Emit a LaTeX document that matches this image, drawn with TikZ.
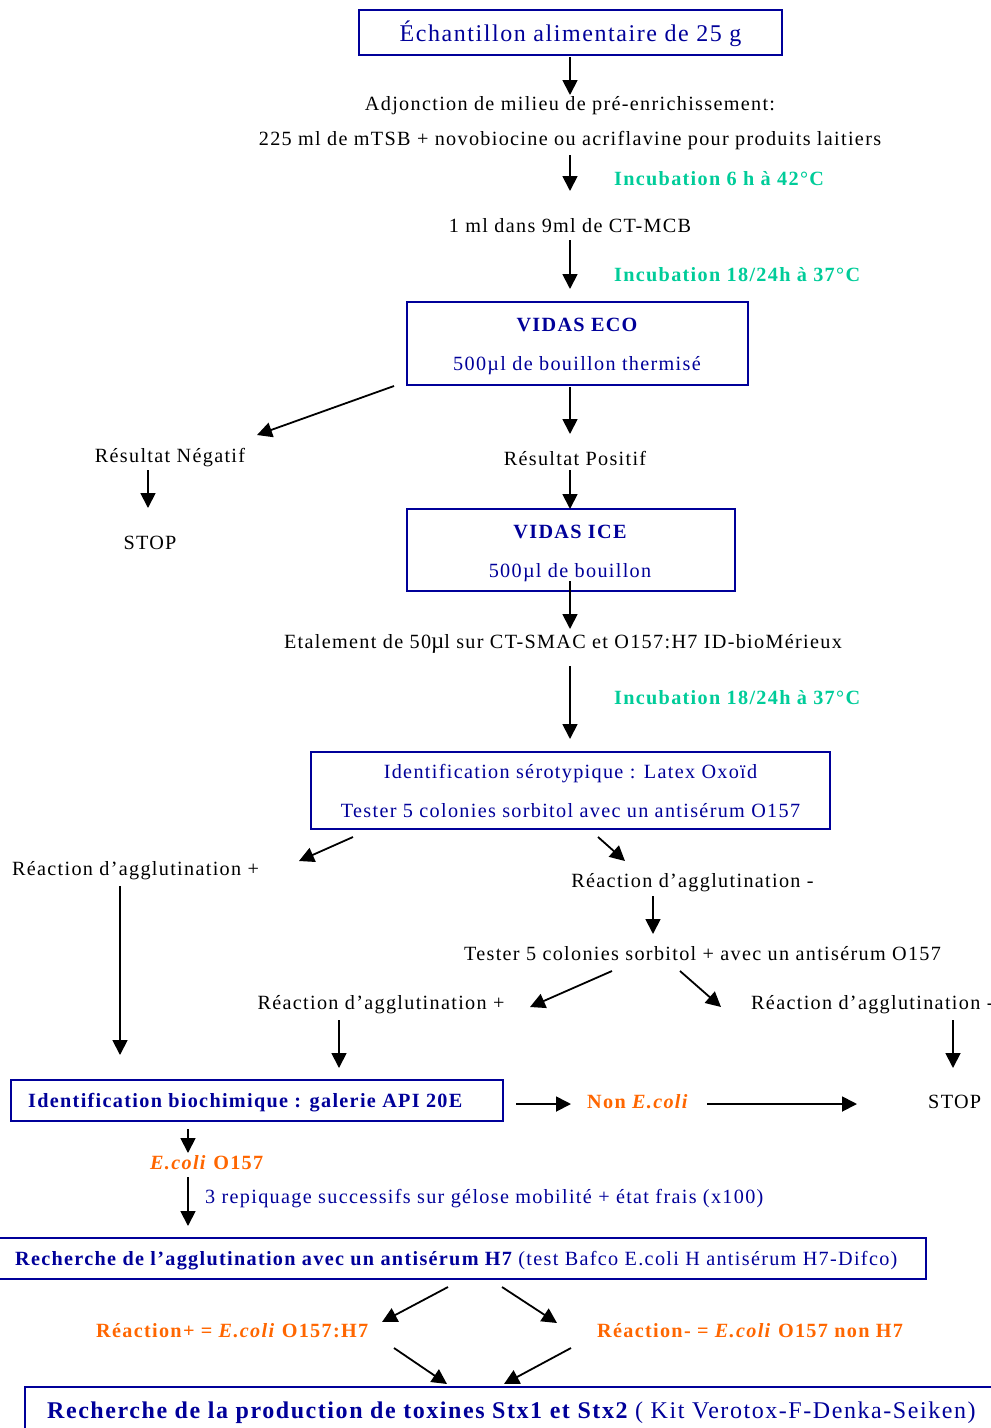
\documentclass[tikz,border=0pt]{standalone}
\usepackage{fontspec}
\setmainfont{Liberation Serif}[LetterSpace=6.5]
\usetikzlibrary{arrows.meta}
\definecolor{navy}{RGB}{0,0,153}
\definecolor{incgreen}{RGB}{0,204,153}
\definecolor{orng}{RGB}{255,102,0}
\newcommand{\fn}{\fontsize{20.2}{24}\selectfont}
\begin{document}
\begin{tikzpicture}[x=1pt,y=-1pt,
  box/.style={draw=navy,line width=2pt,inner sep=0pt},
  arr/.style={-{Triangle[length=15pt,width=15pt]},line width=1.8pt},
  t/.style={inner sep=0pt,font=\fn,yshift=-2pt},
  tb/.style={t,text=navy},
  inc/.style={inner sep=0pt,yshift=-2pt,anchor=west,text=incgreen,font=\fn\bfseries},
  og/.style={inner sep=0pt,yshift=-2pt,anchor=west,text=orng,font=\fn\bfseries}]
\useasboundingbox (0,0) rectangle (991,1428);

% boxes
\node[box,minimum width=423,minimum height=45] (b1) at (570.5,32.5) {};
\node[tb,font=\fontsize{24}{28}\selectfont] (b1t) at (570.5,32) {Échantillon alimentaire de 25 g};
\node[box,minimum width=341,minimum height=83] (eco) at (577.5,343.5) {};
\node[tb,font=\fn\bfseries] (ecot) at (577,323) {VIDAS ECO};
\node[tb] (ecob) at (577,364) {500µl de bouillon thermisé};
\node[box,minimum width=328,minimum height=82] (ice) at (571,550) {};
\node[tb,font=\fn\bfseries] (icet) at (570,530) {VIDAS ICE};
\node[tb] (iceb) at (570,571) {500µl de bouillon};
\node[box,minimum width=519,minimum height=77] (sero) at (570.5,790.5) {};
\node[tb] (serot) at (570.5,772) {Identification sérotypique : Latex Oxoïd};
\node[tb] (serob) at (570.5,809) {Tester 5 colonies sorbitol avec un antisérum O157};
\node[box,minimum width=492,minimum height=41] (api) at (257,1100.5) {};
\node[tb,anchor=west,font=\fn\bfseries] (apit) at (28,1101) {Identification biochimique : galerie API 20E};
\node[box,minimum width=936,minimum height=41] (h7) at (458,1258.5) {};
\node[tb,anchor=west] (h7t) at (15,1259) {\bfseries Recherche de l’agglutination avec un antisérum H7\mdseries{} (test Bafco E.coli H antisérum H7-Difco)};
\node[box,minimum width=1000,minimum height=60] (tox) at (525,1417) {};
\node[tb,anchor=west,font=\fontsize{24}{28}\selectfont] (toxt) at (47,1411) {\bfseries Recherche de la production de toxines Stx1 et Stx2\mdseries{} ( Kit Verotox-F-Denka-Seiken)};

% plain texts
\node[t] (adj) at (570,104) {Adjonction de milieu de pré-enrichissement:};
\node[t] (mtsb) at (570,139) {225 ml de mTSB + novobiocine ou acriflavine pour produits laitiers};
\node[inc] (inc1) at (614,177) {Incubation 6 h à 42°C};
\node[t] (mcb) at (570,224) {1 ml dans 9ml de CT-MCB};
\node[inc] (inc2) at (614,273) {Incubation 18/24h à 37°C};
\node[t] (neg) at (170,456) {Résultat Négatif};
\node[t] (pos) at (575,456) {Résultat Positif};
\node[t] (stop1) at (150,541) {STOP};
\node[t] (etal) at (563,642) {Etalement de 50{\fontsize{23}{23}\selectfont µ}l sur CT-SMAC et O157:H7 ID-bioMérieux};
\node[inc] (inc3) at (614,696) {Incubation 18/24h à 37°C};
\node[t] (rp1) at (135.5,869) {Réaction d’agglutination +};
\node[t] (rm1) at (692.5,881) {Réaction d’agglutination -};
\node[t] (test2) at (702.5,952) {Tester 5 colonies sorbitol + avec un antisérum O157};
\node[t] (rp2) at (381,1003) {Réaction d’agglutination +};
\node[t,anchor=west] (rm2) at (751,1003) {Réaction d’agglutination -};
\node[og] (nonec) at (587,1100) {Non \textit{E.coli}};
\node[t,anchor=west] (stop2) at (928,1100) {STOP};
\node[og] (ecoli) at (150,1161) {\textit{E.coli} O157};
\node[tb,anchor=west] (rep) at (205,1197) {3 repiquage successifs sur gélose mobilité + état frais (x100)};
\node[og] (rplus) at (96,1329) {Réaction+ = \textit{E.coli} O157:H7};
\node[og] (rminus) at (597,1329) {Réaction- = \textit{E.coli} O157 non H7};

% connector end points
\coordinate (a1s) at (570,57);   \coordinate (a1e) at (570,95);
\coordinate (a2s) at (570,155);  \coordinate (a2e) at (570,191);
\coordinate (a3s) at (570,240);  \coordinate (a3e) at (570,289);
\coordinate (a4s) at (394,386);  \coordinate (a4e) at (257,435);
\coordinate (a5s) at (570,387);  \coordinate (a5e) at (570,434);
\coordinate (a6s) at (148,470);  \coordinate (a6e) at (148,508);
\coordinate (a7s) at (570,470);  \coordinate (a7e) at (570,509);
\coordinate (a8s) at (570,581);  \coordinate (a8e) at (570,629);
\coordinate (a9s) at (570,666);  \coordinate (a9e) at (570,739);
\coordinate (a10s) at (353,837); \coordinate (a10e) at (299,861);
\coordinate (a11s) at (598,837); \coordinate (a11e) at (625,861);
\coordinate (a12s) at (120,886); \coordinate (a12e) at (120,1055);
\coordinate (a13s) at (653,896); \coordinate (a13e) at (653,934);
\coordinate (a14s) at (612,971); \coordinate (a14e) at (530,1007);
\coordinate (a15s) at (680,971); \coordinate (a15e) at (721,1007);
\coordinate (a16s) at (339,1020); \coordinate (a16e) at (339,1068);
\coordinate (a17s) at (953,1020); \coordinate (a17e) at (953,1068);
\coordinate (a18s) at (516,1104); \coordinate (a18e) at (571,1104);
\coordinate (a19s) at (707,1104); \coordinate (a19e) at (857,1104);
\coordinate (a20s) at (188,1129); \coordinate (a20e) at (188,1153);
\coordinate (a21s) at (188,1177); \coordinate (a21e) at (188,1226);
\coordinate (a22s) at (448,1287); \coordinate (a22e) at (382,1322);
\coordinate (a23s) at (502,1287); \coordinate (a23e) at (557,1323);
\coordinate (a24s) at (394,1348); \coordinate (a24e) at (447,1384);
\coordinate (a25s) at (571,1348); \coordinate (a25e) at (504,1384);

\foreach \i in {1,...,25} \draw[arr] (a\i s) -- (a\i e);
\end{tikzpicture}
\end{document}
